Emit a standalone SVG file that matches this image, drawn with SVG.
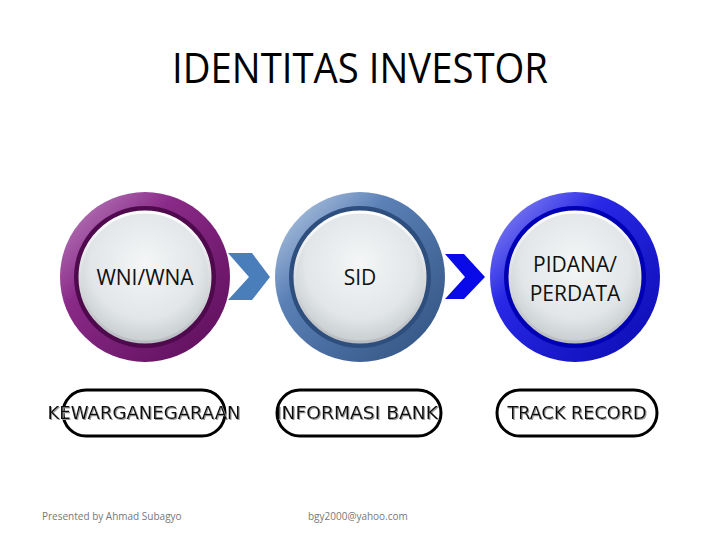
<svg xmlns="http://www.w3.org/2000/svg" width="720" height="540" viewBox="0 0 720 540">
<defs>
<linearGradient id="gPurple" x1="0" y1="0" x2="1" y2="1">
<stop offset="0" stop-color="#c08cc4"/><stop offset="0.35" stop-color="#8a2a88"/><stop offset="1" stop-color="#5a0c58"/>
</linearGradient>
<linearGradient id="gSteel" x1="0" y1="0" x2="1" y2="1">
<stop offset="0" stop-color="#c4d4ea"/><stop offset="0.35" stop-color="#5a80b6"/><stop offset="1" stop-color="#2f507e"/>
</linearGradient>
<linearGradient id="gBlue" x1="0" y1="0" x2="1" y2="1">
<stop offset="0" stop-color="#9a9af4"/><stop offset="0.35" stop-color="#2828e6"/><stop offset="1" stop-color="#0a0ab0"/>
</linearGradient>
<radialGradient id="gDisc" cx="0.5" cy="0.4" r="0.6">
<stop offset="0" stop-color="#f4f6f7"/><stop offset="0.7" stop-color="#e2e6e8"/><stop offset="1" stop-color="#c8cdd0"/>
</radialGradient>
<linearGradient id="gRim" x1="0" y1="0" x2="0" y2="1">
<stop offset="0" stop-color="#ffffff"/><stop offset="1" stop-color="#b8bcc0"/>
</linearGradient>
<filter id="sh" x="-10%" y="-10%" width="120%" height="130%">
<feOffset dx="1" dy="1" in="SourceAlpha" result="o"/>
<feFlood flood-color="#999"/><feComposite in2="o" operator="in" result="s"/>
<feMerge><feMergeNode in="s"/><feMergeNode in="SourceGraphic"/></feMerge>
</filter>
</defs>
<style>
.title{font-family:"Open Sans","Liberation Sans",sans-serif;font-size:42px;fill:#000}
.lbl{font-family:"Open Sans","Liberation Sans",sans-serif;font-size:21px;fill:#111;text-anchor:middle}
.pill{fill:#fff;stroke:#000;stroke-width:3}
.pt{font-family:"DejaVu Sans",Verdana,sans-serif;font-size:17px;fill:#111;text-anchor:middle}
.disc{fill:url(#gDisc);stroke:url(#gRim);stroke-width:3}
.foot{font-family:"Open Sans","Liberation Sans",sans-serif;font-size:10px;fill:#777}
</style>
<text class="title" x="172" y="83" textLength="376" lengthAdjust="spacingAndGlyphs">IDENTITAS INVESTOR</text>

<g id="connectors">
<polygon points="228,253 252,253 270,277 252,300 228,300 249,277" fill="#4a7ebb"/>
<polygon points="445,254 464,254 485,277 464,299 445,299 465,277" fill="#0a0ae8"/>
</g>

<g id="node1">
<circle cx="145" cy="277" r="85" fill="url(#gPurple)"/>
<circle cx="145" cy="277" r="71" fill="#4e0a4c"/>
<circle cx="145" cy="277" r="65" class="disc"/>
<text class="lbl" x="145" y="285">WNI/WNA</text>
</g>
<g id="node2">
<circle cx="360" cy="277" r="85" fill="url(#gSteel)"/>
<circle cx="360" cy="277" r="71" fill="#2e4f7e"/>
<circle cx="360" cy="277" r="65" class="disc"/>
<text class="lbl" x="360" y="285">SID</text>
</g>
<g id="node3">
<circle cx="575" cy="277" r="85" fill="url(#gBlue)"/>
<circle cx="575" cy="277" r="71" fill="#0000b4"/>
<circle cx="575" cy="277" r="65" class="disc"/>
<text class="lbl" x="575" y="272">PIDANA/</text>
<text class="lbl" x="575" y="301">PERDATA</text>
</g>

<g id="pill1">
<rect class="pill" x="63" y="390" width="162" height="46" rx="23"/>
<text class="pt" x="144" y="419" filter="url(#sh)" textLength="193" lengthAdjust="spacingAndGlyphs">KEWARGANEGARAAN</text>
</g>
<g id="pill2">
<rect class="pill" x="277" y="390" width="164" height="46" rx="23"/>
<text class="pt" x="357" y="419" filter="url(#sh)" textLength="162" lengthAdjust="spacingAndGlyphs">INFORMASI BANK</text>
</g>
<g id="pill3">
<rect class="pill" x="497" y="390" width="160" height="46" rx="23"/>
<text class="pt" x="577" y="419" filter="url(#sh)" textLength="139" lengthAdjust="spacingAndGlyphs">TRACK RECORD</text>
</g>

<text class="foot" x="42" y="520">Presented by Ahmad Subagyo</text>
<text class="foot" x="308" y="520">bgy2000@yahoo.com</text>
</svg>
